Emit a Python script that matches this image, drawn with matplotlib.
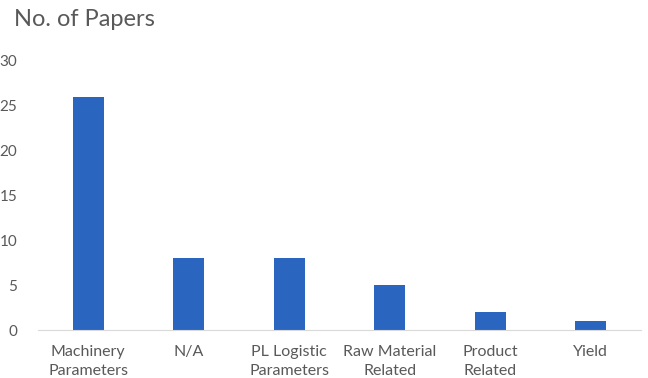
import matplotlib
matplotlib.use('Agg')
import matplotlib.pyplot as plt

categories = ['Machinery\nParameters', 'N/A', 'PL Logistic\nParameters',
              'Raw Material\nRelated', 'Product\nRelated', 'Yield']
papers = [26, 8, 8, 5, 2, 1]
y_ticks = [0, 5, 10, 15, 20, 25, 30]

plt.rcParams['font.family'] = ['Lato', 'DejaVu Sans']
text_gray = '#595959'

fig = plt.figure(figsize=(6.48, 3.78), dpi=100)
ax = fig.add_axes([38/648, 48/378, 603/648, 269/378])

x = range(len(categories))
ax.bar(x, papers, width=0.31, color='#2a65c0')

ax.set_xlim(-0.5, 5.5)
ax.set_ylim(0, 30)
ax.set_yticks(y_ticks)
ax.set_xticks(list(x))
ax.set_xticklabels(categories, linespacing=1.4)

for s in ['top', 'right', 'left']:
    ax.spines[s].set_visible(False)
ax.spines['bottom'].set_color('#d9d9d9')
ax.tick_params(axis='both', length=0, colors=text_gray)
ax.tick_params(axis='x', pad=11, labelsize=11.5)
ax.tick_params(axis='y', pad=15, labelsize=11)

fig.text(14/648, 1 - 20/378, 'No. of Papers', fontsize=17, color=text_gray,
         ha='left', va='center')

plt.savefig('out.png', dpi=100)
